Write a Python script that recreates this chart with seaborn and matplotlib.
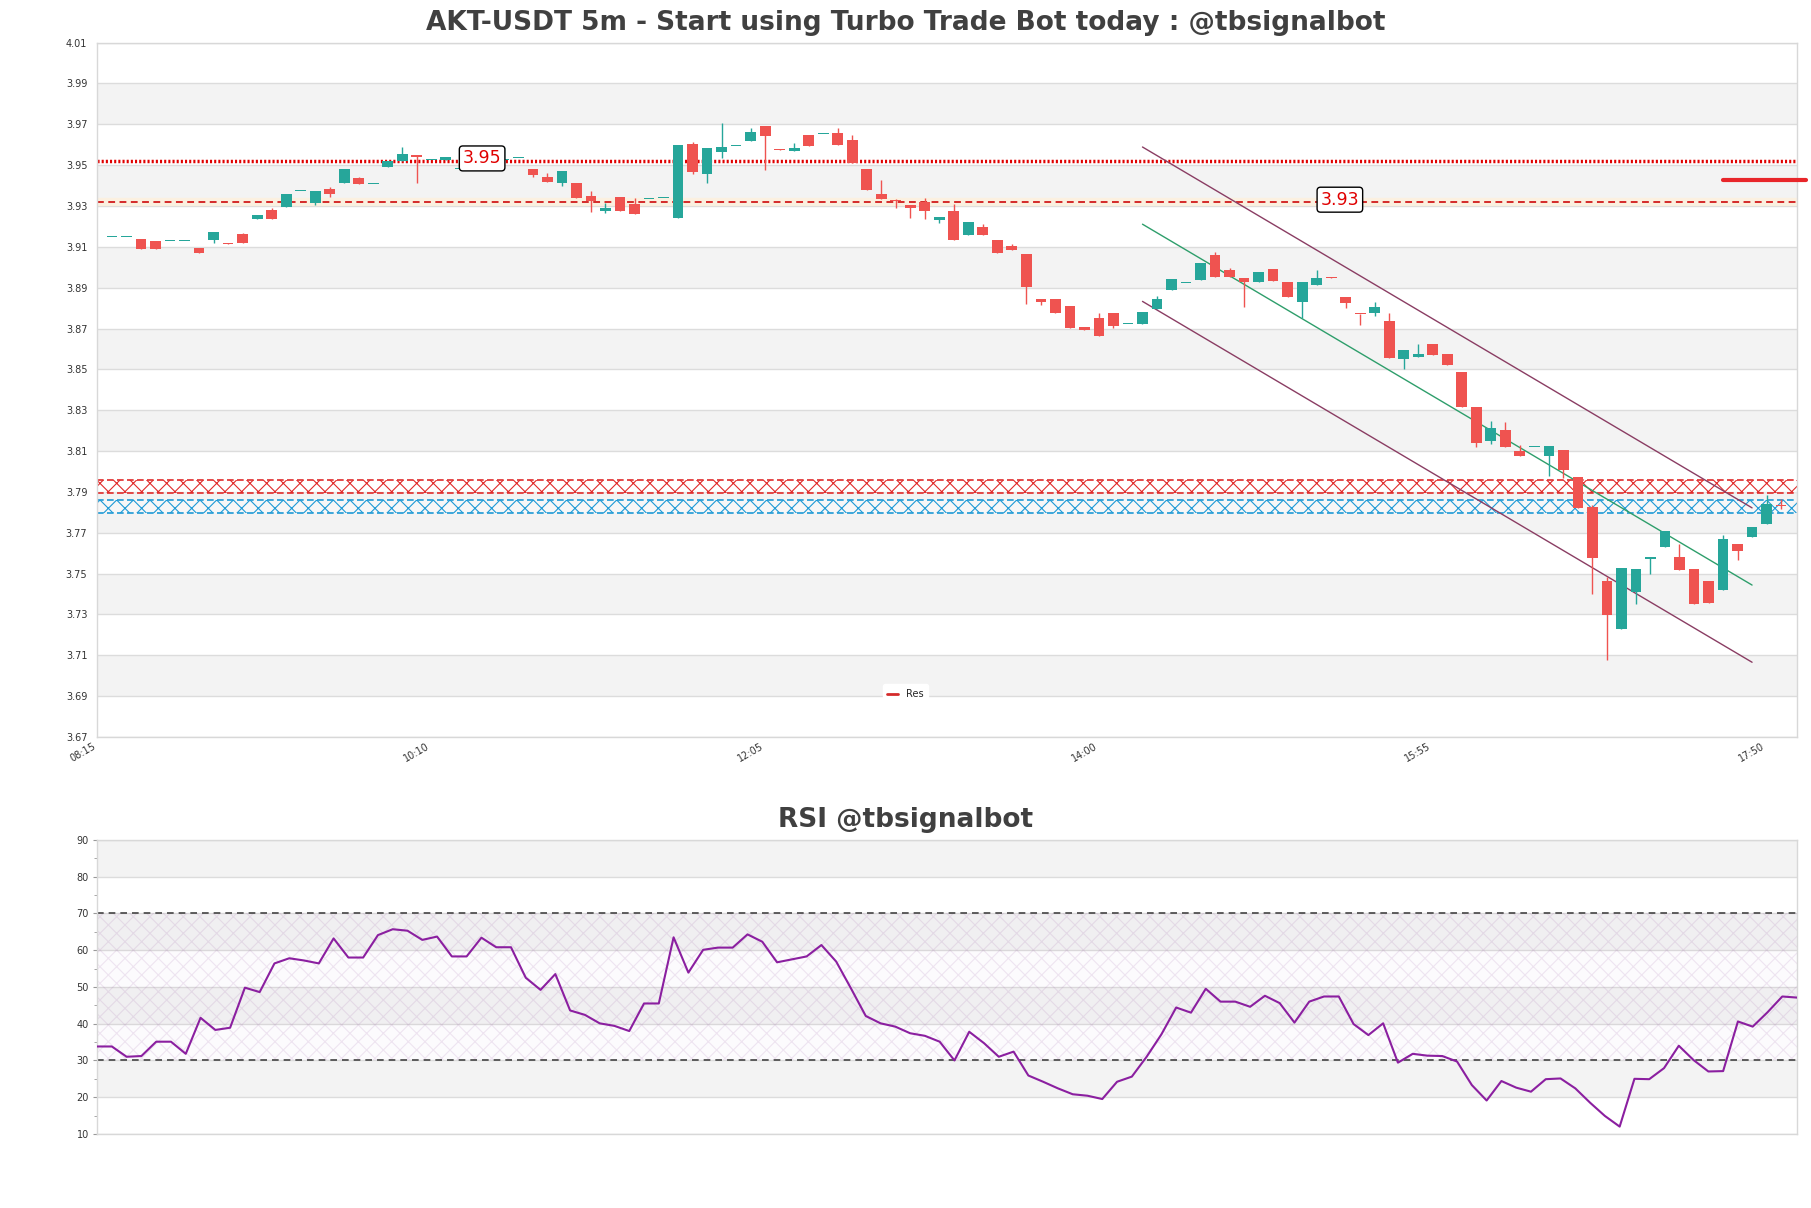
import numpy as np
import pandas as pd
import matplotlib
matplotlib.use("Agg")
import matplotlib.pyplot as plt
from matplotlib.lines import Line2D
import seaborn as sns

# ---------------- data ----------------
opens = [3.9150, 3.9150, 3.9137, 3.9127, 3.9130, 3.9130, 3.9093, 3.9134, 3.9121, 3.9161,
         3.9235, 3.9279, 3.9295, 3.9375, 3.9313, 3.9382, 3.9411, 3.9438, 3.9410, 3.9493,
         3.9521, 3.9549, 3.9524, 3.9523, 3.9483, 3.9483, 3.9500, 3.9525, 3.9534, 3.9480,
         3.9442, 3.9415, 3.9411, 3.9349, 3.9276, 3.9343, 3.9308, 3.9334, 3.9337, 3.9242,
         3.9602, 3.9457, 3.9564, 3.9594, 3.9618, 3.9692, 3.9577, 3.9569, 3.9646, 3.9654,
         3.9656, 3.9622, 3.9479, 3.9357, 3.9328, 3.9306, 3.9319, 3.9231, 3.9274, 3.9158,
         3.9197, 3.9136, 3.9102, 3.9063, 3.8847, 3.8847, 3.8808, 3.8710, 3.8754, 3.8774,
         3.8720, 3.8721, 3.8796, 3.8890, 3.8921, 3.8940, 3.9058, 3.8989, 3.8949, 3.8928,
         3.8994, 3.8928, 3.8830, 3.8913, 3.8950, 3.8856, 3.8773, 3.8775, 3.8737, 3.8550,
         3.8563, 3.8623, 3.8575, 3.8485, 3.8315, 3.8151, 3.8203, 3.8102, 3.8118, 3.8077,
         3.8105, 3.7971, 3.7825, 3.7466, 3.7230, 3.7409, 3.7572, 3.7632, 3.7580, 3.7523,
         3.7466, 3.7422, 3.7645, 3.7681, 3.7743, 3.7835]
highs = [3.9150, 3.9150, 3.9137, 3.9127, 3.9130, 3.9130, 3.9093, 3.9171, 3.9121, 3.9166,
         3.9255, 3.9289, 3.9358, 3.9375, 3.9372, 3.9392, 3.9480, 3.9441, 3.9410, 3.9521,
         3.9588, 3.9549, 3.9524, 3.9539, 3.9483, 3.9483, 3.9500, 3.9591, 3.9534, 3.9480,
         3.9464, 3.9470, 3.9411, 3.9372, 3.9317, 3.9343, 3.9341, 3.9334, 3.9337, 3.9597,
         3.9613, 3.9586, 3.9705, 3.9594, 3.9680, 3.9692, 3.9577, 3.9607, 3.9646, 3.9654,
         3.9680, 3.9646, 3.9479, 3.9425, 3.9336, 3.9306, 3.9337, 3.9244, 3.9308, 3.9223,
         3.9210, 3.9136, 3.9115, 3.9063, 3.8847, 3.8847, 3.8808, 3.8710, 3.8774, 3.8774,
         3.8720, 3.8783, 3.8858, 3.8945, 3.8921, 3.9019, 3.9077, 3.8998, 3.8949, 3.8976,
         3.8994, 3.8928, 3.8928, 3.8989, 3.8950, 3.8856, 3.8773, 3.8832, 3.8778, 3.8596,
         3.8623, 3.8623, 3.8575, 3.8485, 3.8315, 3.8248, 3.8240, 3.8131, 3.8118, 3.8123,
         3.8105, 3.7971, 3.7836, 3.7482, 3.7528, 3.7523, 3.7580, 3.7707, 3.7645, 3.7523,
         3.7466, 3.7689, 3.7645, 3.7730, 3.7885, 3.7866]
lows = [3.9150, 3.9150, 3.9088, 3.9088, 3.9130, 3.9130, 3.9068, 3.9119, 3.9114, 3.9119,
        3.9235, 3.9235, 3.9295, 3.9375, 3.9304, 3.9344, 3.9411, 3.9407, 3.9410, 3.9493,
        3.9521, 3.9413, 3.9524, 3.9523, 3.9483, 3.9483, 3.9500, 3.9525, 3.9534, 3.9442,
        3.9418, 3.9398, 3.9340, 3.9271, 3.9268, 3.9276, 3.9263, 3.9334, 3.9337, 3.9242,
        3.9457, 3.9412, 3.9535, 3.9594, 3.9618, 3.9476, 3.9576, 3.9569, 3.9594, 3.9654,
        3.9599, 3.9512, 3.9378, 3.9334, 3.9290, 3.9241, 3.9234, 3.9215, 3.9133, 3.9158,
        3.9158, 3.9068, 3.9084, 3.8819, 3.8814, 3.8775, 3.8705, 3.8692, 3.8662, 3.8702,
        3.8720, 3.8721, 3.8796, 3.8890, 3.8921, 3.8940, 3.8952, 3.8952, 3.8806, 3.8928,
        3.8933, 3.8854, 3.8750, 3.8913, 3.8948, 3.8799, 3.8716, 3.8762, 3.8555, 3.8504,
        3.8563, 3.8570, 3.8522, 3.8314, 3.8118, 3.8134, 3.8121, 3.8077, 3.8118, 3.7980,
        3.7967, 3.7821, 3.7401, 3.7075, 3.7230, 3.7352, 3.7500, 3.7632, 3.7520, 3.7349,
        3.7355, 3.7422, 3.7569, 3.7681, 3.7743, 3.7817]
closes = [3.9150, 3.9150, 3.9088, 3.9088, 3.9130, 3.9130, 3.9068, 3.9171, 3.9114, 3.9119,
          3.9255, 3.9235, 3.9358, 3.9375, 3.9372, 3.9358, 3.9480, 3.9407, 3.9410, 3.9521,
          3.9554, 3.9542, 3.9524, 3.9539, 3.9483, 3.9483, 3.9500, 3.9532, 3.9534, 3.9451,
          3.9418, 3.9470, 3.9340, 3.9323, 3.9289, 3.9276, 3.9263, 3.9334, 3.9337, 3.9597,
          3.9466, 3.9586, 3.9591, 3.9594, 3.9664, 3.9643, 3.9576, 3.9586, 3.9594, 3.9654,
          3.9599, 3.9512, 3.9378, 3.9334, 3.9325, 3.9290, 3.9275, 3.9244, 3.9133, 3.9223,
          3.9158, 3.9068, 3.9084, 3.8903, 3.8832, 3.8775, 3.8705, 3.8692, 3.8662, 3.8711,
          3.8720, 3.8783, 3.8847, 3.8945, 3.8921, 3.9019, 3.8952, 3.8952, 3.8928, 3.8976,
          3.8933, 3.8854, 3.8928, 3.8946, 3.8948, 3.8825, 3.8772, 3.8807, 3.8555, 3.8596,
          3.8575, 3.8570, 3.8522, 3.8314, 3.8139, 3.8213, 3.8121, 3.8077, 3.8118, 3.8123,
          3.8009, 3.7821, 3.7575, 3.7295, 3.7528, 3.7523, 3.7580, 3.7707, 3.7520, 3.7349,
          3.7355, 3.7670, 3.7613, 3.7727, 3.7841, 3.7832]
rsi = [33.8, 33.8, 31.0, 31.2, 35.1, 35.1, 31.8, 41.6, 38.3, 38.9,
       49.8, 48.6, 56.4, 57.8, 57.2, 56.4, 63.2, 58.0, 58.0, 64.1,
       65.7, 65.3, 62.8, 63.7, 58.3, 58.3, 63.4, 60.8, 60.8, 52.5,
       49.2, 53.5, 43.6, 42.4, 40.1, 39.4, 38.0, 45.5, 45.5, 63.5,
       53.9, 60.1, 60.7, 60.7, 64.3, 62.3, 56.7, 57.5, 58.3, 61.4,
       56.9, 49.6, 42.1, 40.1, 39.2, 37.4, 36.7, 35.1, 30.0, 37.8,
       34.7, 31.0, 32.4, 25.9, 24.2, 22.4, 20.8, 20.4, 19.5, 24.2,
       25.6, 31.0, 37.1, 44.4, 43.0, 49.5, 46.0, 46.0, 44.6, 47.6,
       45.6, 40.3, 46.0, 47.4, 47.4, 39.9, 36.9, 40.1, 29.4, 31.8,
       31.3, 31.2, 29.7, 23.3, 19.1, 24.4, 22.6, 21.5, 24.9, 25.1,
       22.4, 18.5, 14.9, 12.0, 25.0, 24.9, 27.9, 34.0, 30.1, 27.0,
       27.1, 40.6, 39.2, 43.1, 47.4, 47.1]
time_labels = ["08:15", "10:10", "12:05", "14:00", "15:55", "17:50"]
time_label_index = [-1, 22, 45, 68, 91, 114]
price_ticks = [3.67, 3.69, 3.71, 3.73, 3.75, 3.77, 3.79, 3.81, 3.83, 3.85,
               3.87, 3.89, 3.91, 3.93, 3.95, 3.97, 3.99, 4.01]
rsi_ticks = [10, 20, 30, 40, 50, 60, 70, 80, 90]

res_level = 3.9521        # dotted red
sup_level = 3.9318        # dashed red
res_label = "3.95"
sup_label = "3.93"
res_label_at = (25.5, 3.9533)
sup_label_at = (84.6, 3.9331)
res_zone = (3.7893, 3.7958)
sup_zone = (3.7795, 3.7861)
chan_x = [71, 113]
chan_mid = [3.9211, 3.7444]
chan_half = 0.0378
last_marker_level = 3.9428
last_marker_x = [111.0, 116.7]
rsi_upper, rsi_lower = 70, 30

title_main = "AKT-USDT 5m - Start using Turbo Trade Bot today : @tbsignalbot"
title_rsi = "RSI @tbsignalbot"

# ---------------- style ----------------
sns.set_theme(style="white")
plt.rcParams["font.family"] = ["DejaVu Sans"]
plt.rcParams["hatch.linewidth"] = 0.8
UP, DOWN = "#26a69a", "#ef5350"
BAND = "#f3f3f3"
GRID = "#dcdcdc"
TXT = "#333333"

fig = plt.figure(figsize=(18.11, 12.08), dpi=100)
fig.patch.set_facecolor("white")
ax = fig.add_axes([0.0536, 0.3899, 0.9387, 0.5748])
ax2 = fig.add_axes([0.0536, 0.0613, 0.9387, 0.2434])

df = pd.DataFrame({"o": opens, "h": highs, "l": lows, "c": closes})
df["x"] = np.arange(len(df))
up = df["c"] >= df["o"]
cols = np.where(up, UP, DOWN)

# background bands
for lo in price_ticks[1:-1:2]:
    ax.axhspan(lo, lo + 0.02, color=BAND, zorder=0, lw=0)
ax.set_ylim(price_ticks[0], price_ticks[-1])
ax.set_xlim(-1.03, 116.1)
ax.set_yticks(price_ticks)
ax.set_yticklabels([f"{t:.2f}" for t in price_ticks])
ax.yaxis.grid(True, color=GRID, lw=1, zorder=1)
ax.xaxis.grid(False)
ax.set_axisbelow(True)

# zones
for (lo, hi), c in [(res_zone, "#e02b2b"), (sup_zone, "#1e9ad6")]:
    ax.axhspan(lo, hi, facecolor=(1, 1, 1, 0.4), edgecolor=c, hatch="xx", lw=0, zorder=2)
    for lv in (lo, hi):
        ax.axhline(lv, color=c, lw=1.2, ls=(0, (4, 2)), zorder=2)

# horizontal levels
ax.axhline(sup_level, color="#fff0d8", lw=6, alpha=0.7, zorder=2)
ax.axhline(sup_level, color="#d42a2a", lw=1.4, ls=(0, (3.5, 2.3)), zorder=2.5)
ax.axhline(res_level, color="#e00000", lw=2.5, ls=(0, (0.6, 0.6)), zorder=2.5)

# regression channel
cm = np.array(chan_mid)
ax.plot(chan_x, cm + chan_half, color="#8a3d63", lw=1, zorder=2.6)
ax.plot(chan_x, cm - chan_half, color="#8a3d63", lw=1, zorder=2.6)
ax.plot(chan_x, cm, color="#2e9e6b", lw=1, zorder=2.6)

# candles
ax.vlines(df["x"], df["l"], df["h"], colors=cols, lw=1, zorder=3)
body_lo = np.minimum(df["o"], df["c"])
body_h = np.maximum((df["c"] - df["o"]).abs(), 0.0005)
ax.bar(df["x"], body_h, bottom=body_lo, width=0.74, color=cols, lw=0, zorder=4)

# labels
for (lx, ly), t in [(res_label_at, res_label), (sup_label_at, sup_label)]:
    ax.text(lx, ly, t, color="#e00000", fontsize=12.5, ha="center", va="center", zorder=6,
            bbox=dict(boxstyle="round,pad=0.2", fc="white", ec="black", lw=1))

# last marker line beyond the axes
ax.plot(last_marker_x, [last_marker_level] * 2, color="#e8262a", lw=3, clip_on=False, zorder=5)

ax.set_xticks(time_label_index)
ax.set_xticklabels(time_labels, rotation=30, ha="right", fontsize=7, color=TXT)
ax.tick_params(axis="x", length=0, pad=3)
ax.tick_params(axis="y", length=0, pad=7, labelsize=7, labelcolor=TXT)
for s in ax.spines.values():
    s.set_color("#d8d8d8")
    s.set_linewidth(1)

fig.legend(handles=[Line2D([], [], color="#d42a2a", lw=2)], labels=["Res"],
           loc="center", bbox_to_anchor=(0.5, 0.4255), fontsize=7, frameon=True,
           facecolor="white", edgecolor="white", framealpha=1, handlelength=1.1,
           handletextpad=0.8, borderpad=0.5)

# ---------------- RSI ----------------
rdf = pd.DataFrame({"x": np.arange(len(rsi)), "rsi": rsi})
for lo in [20, 40, 60, 80]:
    ax2.axhspan(lo, lo + 10, color=BAND, zorder=0, lw=0)
ax2.fill_between(rdf["x"], rsi_lower, rsi_upper, facecolor=(0.55, 0.25, 0.6, 0.02),
                 edgecolor=(0.55, 0.25, 0.6, 0.12), hatch="xx", lw=0, zorder=1)
ax2.axhline(rsi_upper, color="#444444", lw=1.2, ls=(0, (4, 3)), zorder=2)
ax2.axhline(rsi_lower, color="#444444", lw=1.2, ls=(0, (4, 3)), zorder=2)
sns.lineplot(data=rdf, x="x", y="rsi", ax=ax2, color="#8b1fa0", lw=1.5, zorder=3)
ax2.set_xlim(0, len(rsi) - 1)
ax2.set_ylim(10, 90)
ax2.set_yticks(rsi_ticks)
ax2.set_yticks(np.arange(15, 90, 5), minor=True)
ax2.yaxis.grid(True, color=GRID, lw=1, zorder=0.5)
ax2.set_axisbelow(True)
ax2.set_xticks([])
ax2.set_xlabel("")
ax2.set_ylabel("")
ax2.tick_params(axis="y", which="major", left=True, length=3, width=0.8, color="#999999",
                labelsize=7, labelcolor=TXT, pad=3)
ax2.tick_params(axis="y", which="minor", left=True, length=2, width=0.6, color="#999999")
for s in ax2.spines.values():
    s.set_color("#d8d8d8")
    s.set_linewidth(1)

fig.text(0.5, 1 - 23 / 1208, title_main, ha="center", va="center", fontsize=19,
         fontweight="bold", color="#404040")
fig.text(0.5, 1 - 820 / 1208, title_rsi, ha="center", va="center", fontsize=19,
         fontweight="bold", color="#404040")

fig.savefig("out.png", dpi=100, facecolor="white")
